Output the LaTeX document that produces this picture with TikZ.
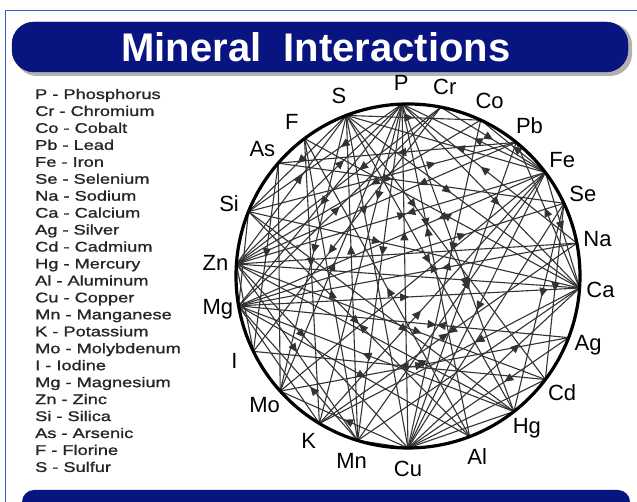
\documentclass[tikz,border=0pt]{standalone}
\usepackage{fontspec}
\setmainfont{Liberation Sans}
\newfontfamily\legfont{Liberation Sans}[FakeStretch=1.3,FakeBold=1.2]
\usetikzlibrary{decorations.markings,arrows.meta}
\definecolor{navy}{RGB}{8,20,128}
\definecolor{framec}{RGB}{60,90,200}
\tikzset{
  tri/.tip={Triangle[length=9pt,width=8pt]},
  chord/.style={line width=1.1pt,draw=black!80},
  f/.style={postaction={decorate,decoration={markings,mark=at position #1 with {\arrow{tri}}}}},
  b/.style={postaction={decorate,decoration={markings,mark=at position #1 with {\arrowreversed{tri}}}}},
  bow/.style={f=#1,b=#1},
  lab/.style={font=\fontsize{22}{22}\selectfont,text=black,inner sep=0pt},
  leg/.style={font=\legfont\fontsize{14}{14}\selectfont,text=black!85,inner sep=0pt,anchor=base west},
}
\begin{document}
\begin{tikzpicture}[x=1pt,y=1pt]
\useasboundingbox (0,0) rectangle (637,502);
\fill[white] (0,0) rectangle (637,502);
% frame
\draw[framec,line width=0.8pt] (5,-5) -- (5,492) -- (645,492);
% title banner
\fill[black!30,rounded corners=22pt] (15,426) rectangle (632,479);
\node[draw=navy!70!black,fill=navy,rounded corners=22pt,minimum width=616pt,minimum height=50pt,inner sep=0pt] (banner) at (320,455) {};
\node[text=white,font=\bfseries\fontsize{40}{40}\selectfont] (title) at (316,455) {Mineral\ \ Interactions};
% bottom banner
\node[fill=navy,rounded corners=12pt,minimum width=608pt,minimum height=40pt,inner sep=0pt] (bottom) at (326,-8) {};
% legend
\foreach \t [count=\i] in {P - Phosphorus,Cr - Chromium,Co - Cobalt,Pb - Lead,Fe - Iron,Se - Selenium,Na - Sodium,Ca - Calcium,Ag - Silver,Cd - Cadmium,Hg - Mercury,Al - Aluminum,Cu - Copper,Mn - Manganese,K - Potassium,Mo - Molybdenum,I - Iodine,Mg - Magnesium,Zn - Zinc,Si - Silica,As - Arsenic,F - Florine,S - Sulfur}
  \node[leg] (leg\i) at (35,{403-(\i-1)*16.95}) {\t};
% wheel
\begin{scope}[shift={(408,226)}]
\coordinate (O) at (0,0);
\foreach \n/\a in {P/92,Cr/79,Co/65,Pb/51,Fe/37,Se/25,Na/11,Ca/-4,Ag/-21,Cd/-37,Hg/-52,Al/-69,Cu/-90,Mn/-107,K/-121,Mo/-138,I/-154,Mg/-170,Zn/176,Si/158,As/139,F/127,S/111}{
  \coordinate (\n) at (\a:172);
  \node[lab] (lab\n) at (\a:193) {\n};
}
\draw[chord,b=.37] (P) -- (Cu);
\draw[chord,bow=.37] (P) -- (Al);
\draw[chord,f=.45] (P) -- (Mn);
\draw[chord,f=.30] (P) -- (K);
\draw[chord,b=.55] (P) -- (Mo);
\draw[chord,f=.5] (P) -- (Mg);
\draw[chord,b=.35] (P) -- (Zn);
\draw[chord,f=.4] (P) -- (Si);
\draw[chord,f=.55] (P) -- (Ca);
\draw[chord,b=.5] (P) -- (Fe);
\draw[chord,f=.6] (P) -- (Hg);
\draw[chord,b=.45] (P) -- (Na);
\draw[chord,f=.3] (S) -- (Cu);
\draw[chord,b=.4] (S) -- (Mn);
\draw[chord,f=.45] (S) -- (Ca);
\draw[chord,b=.55] (S) -- (Fe);
\draw[chord,f=.35] (S) -- (Cd);
\draw[chord,bow=.5] (S) -- (Hg);
\draw[chord,b=.4] (S) -- (Zn);
\draw[chord,f=.5] (S) -- (Mo);
\draw[chord,f=.5] (S) -- (Si);
\draw[chord,f=.5] (S) -- (Co);
\draw[chord,f=.4] (Cr) -- (Zn);
\draw[chord,b=.5] (Cr) -- (Mg);
\draw[chord,f=.5] (Cr) -- (Fe);
\draw[chord,f=.6] (Cr) -- (I);
\draw[chord,b=.5] (Co) -- (Fe);
\draw[chord,f=.45] (Co) -- (Zn);
\draw[chord,f=.4] (Co) -- (Cu);
\draw[chord,b=.45] (Pb) -- (Ca);
\draw[chord,f=.35] (Pb) -- (Zn);
\draw[chord,b=.3] (Pb) -- (Si);
\draw[chord,f=.5] (Pb) -- (As);
\draw[chord] (Pb) -- (Cu);
\draw[chord,f=.5] (Fe) -- (Cu);
\draw[chord,bow=.45] (Fe) -- (Zn);
\draw[chord,b=.4] (Fe) -- (Mn);
\draw[chord,f=.5] (Fe) -- (Ca);
\draw[chord,f=.35] (Fe) -- (Mg);
\draw[chord,b=.55] (Fe) -- (K);
\draw[chord] (Fe) -- (Mo);
\draw[chord,f=.45] (Se) -- (Hg);
\draw[chord,b=.3] (Se) -- (Mg);
\draw[chord,f=.5] (Se) -- (Cd);
\draw[chord,b=.6] (Se) -- (As);
\draw[chord] (Se) -- (Cu);
\draw[chord,bow=.5] (Na) -- (K);
\draw[chord,f=.4] (Na) -- (Mg);
\draw[chord] (Na) -- (Zn);
\draw[chord,b=.5] (Ca) -- (Mg);
\draw[chord,f=.35] (Ca) -- (Zn);
\draw[chord,b=.6] (Ca) -- (Si);
\draw[chord,f=.4] (Ca) -- (K);
\draw[chord] (Ca) -- (Mn);
\draw[chord,b=.35] (Ca) -- (Cu);
\draw[chord,f=.5] (Ca) -- (F);
\draw[chord,f=.4] (Ag) -- (Cu);
\draw[chord,b=.5] (Ag) -- (Mo);
\draw[chord,bow=.4] (Ag) -- (Mg);
\draw[chord,b=.4] (Cd) -- (Zn);
\draw[chord] (Cd) -- (Cu);
\draw[chord,f=.5] (Cd) -- (I);
\draw[chord,f=.35] (Hg) -- (Zn);
\draw[chord,b=.4] (Hg) -- (Si);
\draw[chord] (Hg) -- (Cu);
\draw[chord,f=.55] (Hg) -- (Mg);
\draw[chord,b=.45] (Al) -- (Mg);
\draw[chord,f=.5] (Al) -- (F);
\draw[chord,bow=.5] (Al) -- (Si);
\draw[chord,f=.5] (Cu) -- (Mo);
\draw[chord,b=.6] (Cu) -- (Zn);
\draw[chord] (Cu) -- (Mn);
\draw[chord,f=.4] (Mn) -- (Mg);
\draw[chord,b=.5] (Mn) -- (Zn);
\draw[chord] (K) -- (Mg);
\draw[chord,f=.5] (As) -- (I);
\draw[chord] (As) -- (Mo);
\draw[chord,f=.45] (F) -- (K);
\draw[chord,b=.5] (F) -- (Mn);
\draw[chord] (Si) -- (Mg);
\draw[chord] (I) -- (Zn);
\draw[line width=3.2pt] (O) circle (172);
\end{scope}
\end{tikzpicture}
\end{document}
